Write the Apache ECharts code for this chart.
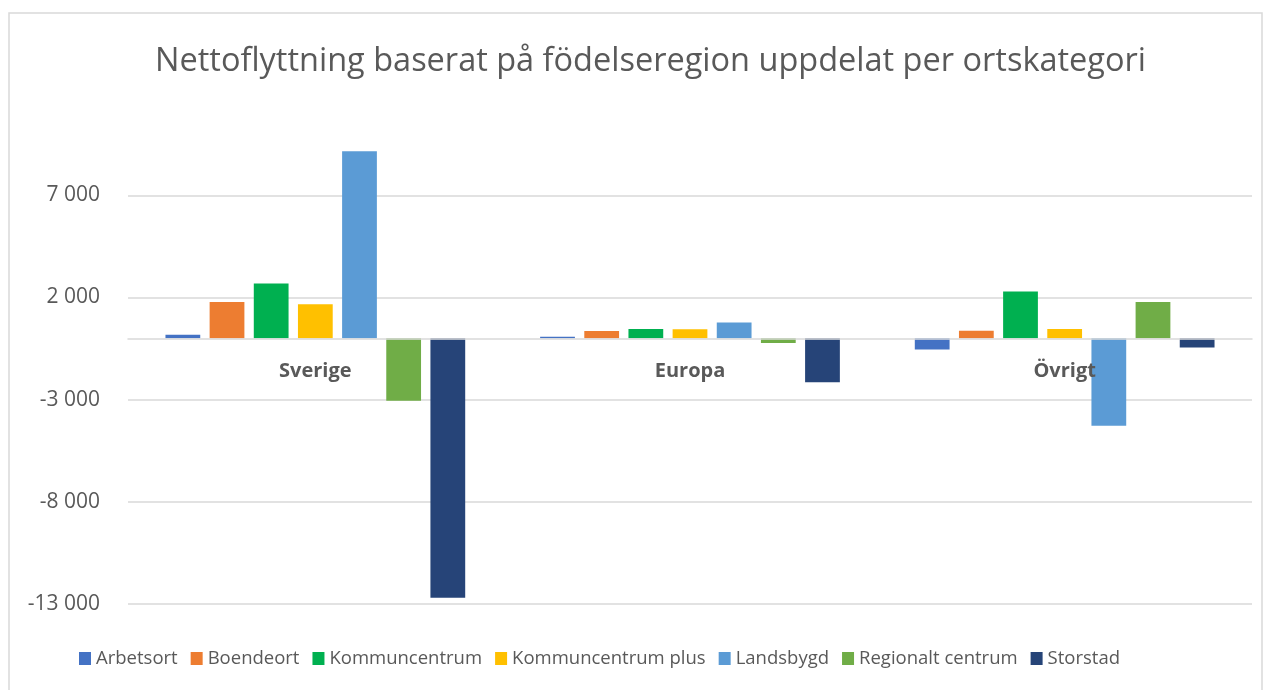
<!DOCTYPE html>
<html>
<head>
<meta charset="utf-8">
<script src="https://cdn.jsdelivr.net/npm/echarts@6/dist/echarts.min.js"></script>
<style>
  html, body { margin: 0; padding: 0; background: #fff; }
  #chart { width: 1271px; height: 690px; }
</style>
</head>
<body>
<div id="chart"></div>
<script>
// categories (birth region)
const regions = ['Sverige', 'Europa', 'Övrigt'];

// one series per place category
const arbetsort = [180, 80, -540];
const boendeort = [1780, 360, 370];
const kommuncentrum = [2680, 460, 2290];
const kommuncentrumPlus = [1665, 450, 460];
const landsbygd = [9160, 770, -4280];
const regionaltCentrum = [-3050, -230, 1780];
const storstad = [-12700, -2150, -450];

const seriesNames = ['Arbetsort', 'Boendeort', 'Kommuncentrum', 'Kommuncentrum plus', 'Landsbygd', 'Regionalt centrum', 'Storstad'];
const seriesData = [arbetsort, boendeort, kommuncentrum, kommuncentrumPlus, landsbygd, regionaltCentrum, storstad];
const colors = ['#4472C4', '#ED7D31', '#00B050', '#FFC000', '#5B9BD5', '#70AD47', '#264478'];

const font = 'Open Sans, sans-serif';
const textColor = '#595959';

function fmt(v) {
  const s = Math.abs(v).toString().replace(/\B(?=(\d{3})+(?!\d))/g, ' ');
  return (v < 0 ? '-' : '') + s;
}

const chart = echarts.init(document.getElementById('chart'));

chart.setOption({
  color: colors,
  animation: false,
  title: {
    text: 'Nettoflyttning baserat på födelseregion uppdelat per ortskategori',
    left: 150,
    top: 40,
    textStyle: { fontFamily: font, fontSize: 32.5, fontWeight: 'normal', color: textColor }
  },
  legend: {
    bottom: 17,
    left: 74,
    itemWidth: 12,
    itemHeight: 13,
    itemGap: 13,
    icon: 'rect',
    textStyle: { fontFamily: font, fontSize: 18.5, color: textColor, padding: [0, 0, 0, 0] },
    data: seriesNames
  },
  grid: { left: 128, right: 19, top: 134, bottom: 86 },
  xAxis: {
    type: 'category',
    data: regions,
    z: 5,
    axisLine: { onZero: true, lineStyle: { color: '#d9d9d9', width: 1.5 } },
    axisTick: { show: false },
    axisLabel: { margin: -243, fontFamily: font, fontSize: 20, fontWeight: 'bold', color: textColor }
  },
  yAxis: {
    type: 'value',
    min: -13000,
    max: 10000,
    interval: 5000,
    axisLine: { show: false },
    axisTick: { show: false },
    axisLabel: {
      margin: 28,
      showMaxLabel: false,
      fontFamily: font, fontSize: 21, color: textColor,
      formatter: fmt
    },
    splitLine: {
      lineStyle: { color: ['#d9d9d9', '#d9d9d9', '#d9d9d9', '#d9d9d9', '#d9d9d9', 'rgba(0,0,0,0)'], width: 1.5 }
    }
  },
  graphic: [{
    type: 'rect',
    shape: { x: 9, y: 13, width: 1253, height: 700 },
    style: { fill: 'none', stroke: '#d9d9d9', lineWidth: 1.5 },
    silent: true
  }],
  series: seriesNames.map((name, i) => ({
    name: name,
    type: 'bar',
    data: seriesData[i],
    barGap: '27%',
    barCategoryGap: '20%'
  }))
});
</script>
</body>
</html>
